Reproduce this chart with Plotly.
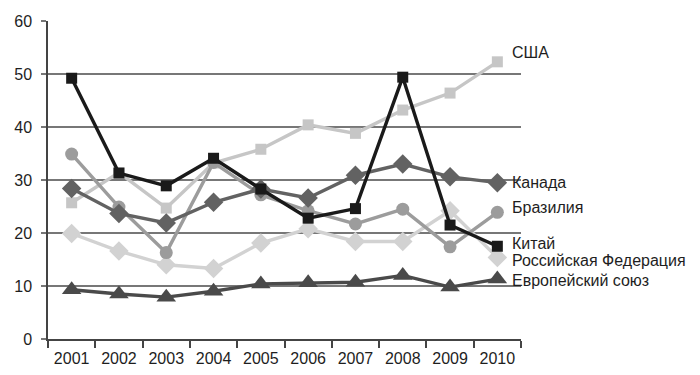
import plotly.graph_objects as go

years = ["2001", "2002", "2003", "2004", "2005", "2006", "2007", "2008", "2009", "2010"]

china = [49.2, 31.3, 28.9, 34.1, 28.3, 22.8, 24.6, 49.4, 21.5, 17.5]
usa = [25.7, 31.4, 24.7, 33.2, 35.8, 40.4, 38.8, 43.2, 46.4, 52.3]
canada = [28.4, 23.7, 21.9, 25.8, 28.3, 26.6, 30.9, 33.0, 30.6, 29.5]
brazil = [34.9, 24.9, 16.3, 33.3, 27.2, 24.2, 21.7, 24.5, 17.4, 23.9]
russia = [19.9, 16.6, 14.0, 13.3, 18.1, 20.8, 18.4, 18.4, 24.2, 15.4]
eu = [9.3, 8.5, 7.9, 9.0, 10.4, 10.6, 10.7, 12.0, 9.8, 11.3]

names = ["США", "Канада", "Бразилия", "Китай", "Российская Федерация", "Европейский союз"]
label_y = [54.1, 29.5, 24.8, 18.0, 14.9, 11.0]

FONT = "Liberation Sans, Arial, Helvetica, sans-serif"

series = [
    ("США", usa, "#c6c6c6", "square", 11),
    ("Российская Федерация", russia, "#d2d2d2", "diamond", 15),
    ("Бразилия", brazil, "#9c9c9c", "circle", 13),
    ("Канада", canada, "#626262", "diamond", 15),
    ("Европейский союз", eu, "#4a4a4a", "triangle-up", 17),
    ("Китай", china, "#1a1a1a", "square", 11),
]

fig = go.Figure()
for name, vals, color, sym, size in series:
    fig.add_trace(go.Scatter(
        x=years, y=vals, name=name, mode="lines+markers",
        line=dict(color=color, width=3.4),
        marker=dict(symbol=sym, size=size, color=color, line=dict(width=0)),
        showlegend=False, cliponaxis=False,
    ))

for n, yv in zip(names, label_y):
    fig.add_annotation(
        x=1, xref="paper", y=yv, yref="y", text=n, showarrow=False,
        xanchor="left", yanchor="middle", xshift=-11,
        font=dict(family=FONT, size=16, color="#1e1e1e"),
    )

fig.update_layout(
    width=692, height=367,
    margin=dict(l=40, r=179, t=13, b=36, autoexpand=False),
    paper_bgcolor="white", plot_bgcolor="white",
    font=dict(family=FONT, size=16, color="#1e1e1e"),
)
fig.update_xaxes(
    type="category", showgrid=False, showline=True, linecolor="#444", linewidth=1.5,
    ticks="outside", tickson="boundaries", ticklen=7, tickwidth=1.5, tickcolor="#444",
    range=[-0.5, 9.5], fixedrange=True, ticklabelstandoff=4, automargin=False,
)
fig.update_yaxes(
    range=[0, 60], dtick=10, showgrid=True, gridcolor="#777", gridwidth=1.5,
    zeroline=False, showline=True, linecolor="#444", linewidth=1.5,
    ticks="outside", ticklen=5, tickwidth=1.5, tickcolor="#777",
    ticklabelstandoff=6, automargin=False,
)

fig.write_html("out.html")
